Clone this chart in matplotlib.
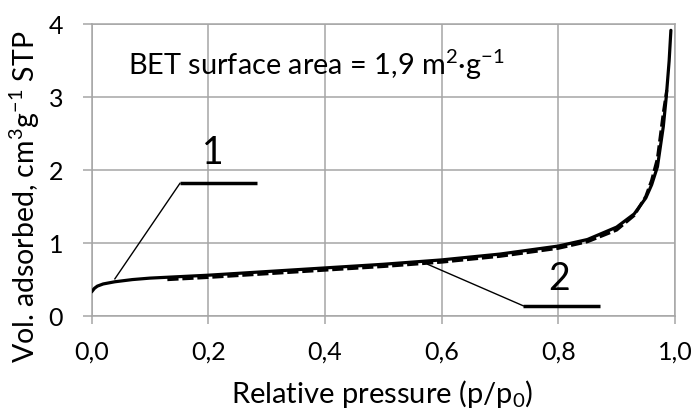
import matplotlib
matplotlib.use("Agg")
from matplotlib import pyplot as plt

plt.rcParams['font.family'] = ['Lato', 'DejaVu Sans']
plt.rcParams['mathtext.default'] = 'regular'

# isotherm 1 (solid)
p1 = [0.0, 0.005, 0.01, 0.02, 0.04, 0.07, 0.1, 0.15, 0.2, 0.3, 0.4, 0.5, 0.6,
      0.7, 0.8, 0.85, 0.9, 0.93, 0.95, 0.96, 0.97, 0.98, 0.985, 0.99, 0.993]
v1 = [0.33, 0.38, 0.41, 0.44, 0.47, 0.50, 0.52, 0.54, 0.56, 0.61, 0.66, 0.71,
      0.77, 0.85, 0.96, 1.05, 1.22, 1.40, 1.62, 1.80, 2.05, 2.60, 3.00, 3.50, 3.92]

# isotherm 2 (dashed)
p2 = [0.13, 0.2, 0.3, 0.4, 0.5, 0.6, 0.7, 0.8, 0.85, 0.9, 0.93, 0.95, 0.96,
      0.97, 0.98, 0.986]
v2 = [0.50, 0.53, 0.58, 0.63, 0.68, 0.74, 0.82, 0.93, 1.02, 1.18, 1.38, 1.64,
      1.86, 2.16, 2.78, 3.10]

xticks = [0.0, 0.2, 0.4, 0.6, 0.8, 1.0]
xtick_labels = ['0,0', '0,2', '0,4', '0,6', '0,8', '1,0']
yticks = [0, 1, 2, 3, 4]
ytick_labels = ['0', '1', '2', '3', '4']

grey = '#a6a6a6'

fig = plt.figure(figsize=(6.97, 4.11), dpi=100)
ax = fig.add_axes([0.1313, 0.2311, 0.8371, 0.7093])

ax.plot(p2, v2, color='black', lw=2.3, ls=(0, (3.5, 1.2)), zorder=3)
ax.plot(p1, v1, color='black', lw=2.3, zorder=4, solid_capstyle='round')

ax.set_xlim(0, 1.0)
ax.set_ylim(0, 4)
ax.set_xticks(xticks)
ax.set_xticklabels(xtick_labels)
ax.set_yticks(yticks)
ax.set_yticklabels(ytick_labels)
ax.grid(True, color=grey, lw=1.1)
ax.set_axisbelow(True)
for s in ax.spines.values():
    s.set_color(grey)
    s.set_linewidth(1.1)
ax.tick_params(axis='x', length=6, width=1.1, color=grey, pad=12, labelsize=18)
ax.tick_params(axis='y', length=6.5, width=1.1, color=grey, pad=14, labelsize=18)

# label 1
ax.plot([0.1515, 0.283], [1.82, 1.82], color='black', lw=2.5, solid_capstyle='butt')
ax.plot([0.040, 0.1515], [0.51, 1.82], color='black', lw=1.0)
ax.text(0.208, 2.24, '1', fontsize=27, ha='center', va='center')

# label 2
ax.plot([0.740, 0.872], [0.14, 0.14], color='black', lw=2.5, solid_capstyle='butt')
ax.plot([0.576, 0.740], [0.71, 0.14], color='black', lw=1.0)
ax.text(0.802, 0.51, '2', fontsize=27, ha='center', va='center')

ax.text(0.0625, 3.31, 'BET surface area = 1,9 m$^{2}$·g$^{-1}$', fontsize=20.8,
        ha='left', va='baseline')

fig.text(382 / 697, 1 - 394 / 411, 'Relative pressure (p/p$_0$)', fontsize=21,
         ha='center', va='center')
fig.text(25 / 697, 1 - 197 / 411, 'Vol. adsorbed, cm$^3$g$^{-1}$ STP', fontsize=20.5,
         ha='center', va='center', rotation=90)

fig.savefig('out.png', dpi=100)
